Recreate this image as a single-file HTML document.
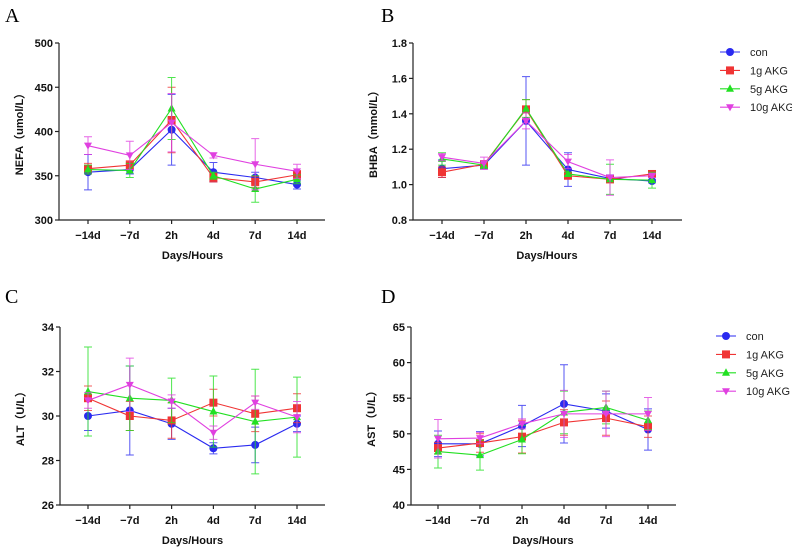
<!DOCTYPE html>
<html><head><meta charset="utf-8"><style>
body{margin:0;background:#fff}
svg{display:block;font-family:"Liberation Sans",Arial,sans-serif}
</style></head><body>
<svg id="chart" width="792" height="550" viewBox="0 0 792 550"></svg>
<script>
const categories=["\u221214d","\u22127d","2h","4d","7d","14d"];
const seriesNames=["con","1g AKG","5g AKG","10g AKG"];
const nefaMean=[[354,357,402,354,348,340],[358,362,413,348,343,351],[357,356,426,350,335,346],[384,373,410,373,363,355]];
const nefaErr=[[20,5,40,11,6,5],[6,5,37,5,6,5],[5,8,35,4,15,5],[10,16,33,3,29,8]];
const bhbaMean=[[1.09,1.11,1.36,1.085,1.035,1.02],[1.07,1.115,1.425,1.05,1.03,1.06],[1.145,1.11,1.43,1.06,1.03,1.025],[1.155,1.12,1.36,1.13,1.04,1.05]];
const bhbaErr=[[0.05,0.02,0.25,0.095,0.02,0.01],[0.03,0.02,0.055,0.01,0.02,0.015],[0.035,0.02,0.05,0.01,0.085,0.045],[0.02,0.035,0.045,0.04,0.1,0.01]];
const altMean=[[30.0,30.25,29.65,28.55,28.7,29.65],[30.8,30.0,29.8,30.6,30.1,30.35],[31.1,30.8,30.7,30.2,29.75,29.95],[30.7,31.4,30.65,29.25,30.6,29.95]];
const altErr=[[0.65,2.0,0.7,0.25,0.8,0.35],[0.55,0.65,0.8,0.6,0.8,0.65],[2.0,1.45,1.0,1.6,2.35,1.8],[0.35,1.2,0.3,0.3,0.3,0.7]];
const astMean=[[48.6,48.6,51.1,54.2,53.2,50.6],[48.0,48.7,49.6,51.6,52.2,51.0],[47.5,47.0,49.2,53.0,53.7,51.9],[49.3,49.4,51.4,52.8,52.8,52.8]];
const astErr=[[1.8,1.7,2.9,5.5,2.4,2.9],[0.8,1.3,2.3,1.8,2.4,1.5],[2.3,2.1,2.0,3.0,2.3,1.3],[2.7,0.8,0.7,3.3,3.2,2.3]];
const nefaTicks=[300,350,400,450,500];
const bhbaTicks=[0.8,1.0,1.2,1.4,1.6,1.8];
const altTicks=[26,28,30,32,34];
const astTicks=[40,45,50,55,60,65];

const colors=["#2a2af0","#f03434","#22e022","#e040e0"];
const NS="http://www.w3.org/2000/svg";
const svg=document.getElementById('chart');
function mk(tag,attrs,parent){const e=document.createElementNS(NS,tag);for(const k in attrs)e.setAttribute(k,attrs[k]);(parent||svg).appendChild(e);return e;}
function marker(g,i,x,y,r){
  const c=colors[i];
  if(i===0) return mk('circle',{cx:x,cy:y,r:r,fill:c},g);
  if(i===1) return mk('rect',{x:x-r,y:y-r,width:2*r,height:2*r,fill:c},g);
  if(i===2) return mk('polygon',{points:`${x},${y-r-0.5} ${x-r},${y+r-1} ${x+r},${y+r-1}`,fill:c},g);
  return mk('polygon',{points:`${x},${y+r} ${x-r},${y-r+1} ${x+r},${y-r+1}`,fill:c},g);
}
function panel(cfg){
  const g=mk('g',{});
  
  
  const yMin=cfg.ticks[0],yMax=cfg.ticks[cfg.ticks.length-1];
  const ys=v=>cfg.yb-(v-yMin)/(yMax-yMin)*(cfg.yb-cfg.yt);
  const xs=i=>cfg.x0+i*cfg.dx;
  const lt=mk('text',{x:cfg.lx,y:cfg.ly,'font-size':20,'font-family':'"Liberation Serif",serif'},g);lt.textContent=cfg.letter;
  
  const ax=mk('path',{d:`M${cfg.ax},${cfg.yt}V${cfg.yb}H${cfg.axEnd}`,stroke:'#222',fill:'none','stroke-width':1.2},g);
  
  cfg.ticks.forEach(t=>{
    const y=ys(t);
    mk('line',{x1:cfg.ax-4,x2:cfg.ax,y1:y,y2:y,stroke:'#222','stroke-width':1.2},g);
    const tx=mk('text',{x:cfg.ax-6,y:y+4,'font-size':11,'font-weight':'bold','text-anchor':'end',fill:'#111'},g);
    tx.textContent=cfg.fmt(t);
    
  });
  categories.forEach((c,i)=>{
    const x=xs(i);
    mk('line',{x1:x,x2:x,y1:cfg.yb,y2:cfg.yb+4,stroke:'#222','stroke-width':1.2},g);
    const tx=mk('text',{x:x,y:cfg.yb+19,'font-size':11,'font-weight':'bold','text-anchor':'middle',fill:'#111'},g);
    tx.textContent=c;
    
  });
  const xt=mk('text',{x:(xs(0)+xs(5))/2,y:cfg.yb+39,'font-size':11,'font-weight':'bold','text-anchor':'middle',fill:'#111'},g);
  xt.textContent='Days/Hours';
  
  const ymid=(cfg.yt+cfg.yb)/2;
  const yt=mk('text',{x:cfg.ax-36,y:ymid,'font-size':11,'font-weight':'bold','text-anchor':'middle',fill:'#111',transform:`rotate(-90 ${cfg.ax-36} ${ymid})`},g);
  yt.textContent=cfg.ytitle;
  
  cfg.mean.forEach((m,si)=>{
    const sg=mk('g',{},g);
    
    
    const pts=m.map((v,i)=>`${xs(i)},${ys(v)}`).join(' ');
    mk('polyline',{points:pts,fill:'none',stroke:colors[si],'stroke-width':1.1},sg);
    m.forEach((v,i)=>{
      const e=cfg.err[si][i],x=xs(i);
      mk('path',{d:`M${x},${ys(v-e)}V${ys(v+e)}M${x-4},${ys(v-e)}H${x+4}M${x-4},${ys(v+e)}H${x+4}`,stroke:colors[si],'stroke-width':1,fill:'none','stroke-opacity':0.8},sg);
    });
    m.forEach((v,i)=>{
      const mm=marker(sg,si,xs(i),ys(v),4);
      
      
    });
  });
  if(cfg.legendY){
    const lg=mk('g',{},g);
    
    seriesNames.forEach((n,i)=>{
      const y=cfg.legendY+i*18.4;
      const eg=mk('g',{},lg);
      
      mk('line',{x1:cfg.legendX-10,x2:cfg.legendX+10,y1:y,y2:y,stroke:colors[i],'stroke-width':1.1},eg);
      marker(eg,i,cfg.legendX,y,4);
      const t=mk('text',{x:cfg.legendX+20,y:y+4,'font-size':11,fill:'#222'},eg);
      t.textContent=n;
    });
  }
}
panel({name:'panel-a-nefa',letter:'A',lx:5,ly:22,ax:59,axEnd:325,yt:43,yb:220,x0:88,dx:41.8,ticks:nefaTicks,fmt:v=>String(v),mean:nefaMean,err:nefaErr,ytitle:'NEFA\uFF08umol/L\uFF09'});
panel({name:'panel-b-bhba',letter:'B',lx:381,ly:22,ax:413,axEnd:682,yt:43,yb:220,x0:442,dx:42,ticks:bhbaTicks,fmt:v=>v.toFixed(1),mean:bhbaMean,err:bhbaErr,ytitle:'BHBA\uFF08mmol/L\uFF09',legendX:730,legendY:52});
panel({name:'panel-c-alt',letter:'C',lx:5,ly:303,ax:60,axEnd:325,yt:327,yb:505,x0:88,dx:41.8,ticks:altTicks,fmt:v=>String(v),mean:altMean,err:altErr,ytitle:'ALT\uFF08U/L\uFF09'});
panel({name:'panel-d-ast',letter:'D',lx:381,ly:303,ax:411,axEnd:676,yt:327,yb:505,x0:438,dx:42,ticks:astTicks,fmt:v=>String(v),mean:astMean,err:astErr,ytitle:'AST\uFF08U/L\uFF09',legendX:726,legendY:336});
</script>
</body></html>
